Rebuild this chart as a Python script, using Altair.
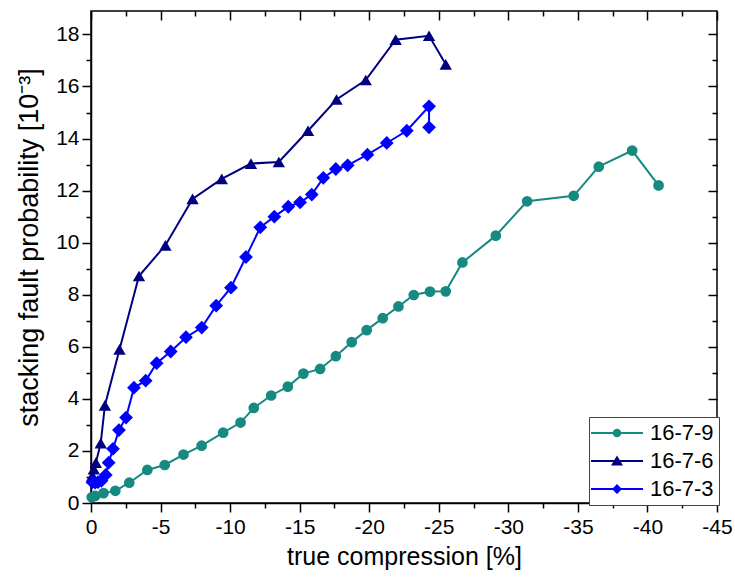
import altair as alt
import pandas as pd

series_names = ["16-7-9", "16-7-6", "16-7-3"]
series_colors = ["#168a80", "#000080", "#0000ff"]
series_shapes = ["circle", "triangle-up", "diamond"]
series_sizes = [115, 190, 120]

x_1679 = [-0.05, -0.3, -0.9, -1.75, -2.75, -4.05, -5.3, -6.65, -7.95, -9.5, -10.75,
          -11.7, -12.95, -14.15, -15.27, -16.47, -17.6, -18.74, -19.82, -20.97, -22.1,
          -23.2, -24.37, -25.5, -26.7, -29.1, -31.35, -34.7, -36.5, -38.9, -40.8]
y_1679 = [0.22, 0.27, 0.38, 0.47, 0.78, 1.27, 1.46, 1.86, 2.2, 2.7, 3.09,
          3.65, 4.13, 4.47, 4.97, 5.15, 5.64, 6.18, 6.64, 7.1, 7.55,
          7.99, 8.12, 8.13, 9.24, 10.27, 11.59, 11.8, 12.92, 13.54, 12.2]

x_1676 = [-0.1, -0.2, -0.35, -0.7, -1.0, -2.05, -3.45, -5.35, -7.3, -9.4, -11.5,
          -13.5, -15.6, -17.65, -19.75, -21.9, -24.3, -25.5]
y_1676 = [1.05, 1.3, 1.55, 2.3, 3.75, 5.9, 8.72, 9.9, 11.68, 12.45, 13.04,
          13.1, 14.3, 15.5, 16.25, 17.8, 17.95, 16.85]

x_1673 = [-0.1, -0.3, -0.5, -0.75, -1.06, -1.27, -1.58, -2.01, -2.52, -3.09, -3.93,
          -4.72, -5.73, -6.83, -7.96, -9.0, -10.06, -11.14, -12.17, -13.18, -14.18,
          -15.03, -15.87, -16.7, -17.6, -18.45, -19.87, -21.26, -22.7, -24.3, -24.3]
y_1673 = [0.8, 0.78, 0.8, 0.85, 1.08, 1.55, 2.08, 2.8, 3.28, 4.43, 4.7,
          5.37, 5.82, 6.37, 6.74, 7.58, 8.27, 9.45, 10.59, 11.0, 11.38,
          11.55, 11.85, 12.49, 12.83, 12.97, 13.38, 13.83, 14.3, 15.24, 14.43]

x_tick_values = [0, -2.5, -5, -7.5, -10, -12.5, -15, -17.5, -20, -22.5, -25,
                 -27.5, -30, -32.5, -35, -37.5, -40, -42.5, -45]
y_tick_values = [0, 1, 2, 3, 4, 5, 6, 7, 8, 9, 10, 11, 12, 13, 14, 15, 16, 17, 18]

rows = []
for name, xs, ys in [(series_names[0], x_1679, y_1679),
                     (series_names[1], x_1676, y_1676),
                     (series_names[2], x_1673, y_1673)]:
    for i, (xv, yv) in enumerate(zip(xs, ys)):
        rows.append({"sample": name, "x": xv, "y": yv, "i": i})
df = pd.DataFrame(rows)

W, H = 626, 492
FONT = "Liberation Sans"

# legend symbols: line with marker (path units scaled by sqrt(size)/2 = 5 px)
line_path = "M-5.2,-0.2H5.2V0.2H-5.2Z"
legend_paths = [
    line_path + " M0.85,0A0.85,0.85 0 1,1 -0.85,0A0.85,0.85 0 1,1 0.85,0Z",
    line_path + " M0,-1.1L1.2,0.9L-1.2,0.9Z",
    line_path + " M0,-1L1,0L0,1L-1,0Z",
]

xscale = alt.Scale(domain=[0, -45], nice=False, zero=False)
yscale = alt.Scale(domain=[0, 18.9], nice=False, zero=False)
cscale = alt.Scale(domain=series_names, range=series_colors)

tick_x = {"condition": {"test": "datum.value % 5 === 0", "value": 9}, "value": 5}
tick_y = {"condition": {"test": "datum.value % 2 === 0", "value": 9}, "value": 5}
# negative sizes turn the mirrored ticks inward
tick_x_in = {"expr": "datum.value % 5 === 0 ? -9 : -5"}
tick_y_in = {"expr": "datum.value % 2 === 0 ? -9 : -5"}

x_main_axis = alt.Axis(
    values=x_tick_values,
    labelExpr="datum.value % 5 === 0 ? (datum.value < 0 ? '-' + format(-datum.value, 'd') : '0') : ''",
    labelOverlap=False, labelFlush=False,
    tickSize=tick_x, tickWidth=1.5, tickColor="black",
    domainColor="black", domainWidth=1.5,
    labelFont=FONT, labelFontSize=21, labelColor="black", labelPadding=4,
    title="true compression [%]", titleFont=FONT, titleFontSize=25,
    titleFontWeight="normal", titleColor="black", titlePadding=7,
    grid=False,
)
y_main_axis = alt.Axis(
    values=y_tick_values,
    labelExpr="datum.value % 2 === 0 ? format(datum.value, 'd') : ''",
    labelOverlap=False, labelFlush=False,
    tickSize=tick_y, tickWidth=1.5, tickColor="black",
    domainColor="black", domainWidth=1.5,
    labelFont=FONT, labelFontSize=21, labelColor="black", labelPadding=3,
    title="stacking fault probability [10\u207b\u00b3]", titleFont=FONT, titleFontSize=27,
    titleFontWeight="normal", titleColor="black", titlePadding=12, titleY=236,
    grid=False,
)
x_mirror_axis = alt.Axis(
    orient="top", values=x_tick_values, labels=False, title="",
    domain=False, tickSize=tick_x_in, tickWidth=1.5, tickColor="black", grid=False,
)
y_mirror_axis = alt.Axis(
    orient="right", values=y_tick_values, labels=False, title="",
    domain=False, tickSize=tick_y_in, tickWidth=1.5, tickColor="black", grid=False,
)

base = alt.Chart(df)

lines = base.mark_line(strokeWidth=2).encode(
    x=alt.X("x:Q", scale=xscale, axis=x_main_axis),
    y=alt.Y("y:Q", scale=yscale, axis=y_main_axis),
    color=alt.Color("sample:N", scale=cscale, legend=None),
    detail="sample:N",
    order="i:Q",
)

points = base.mark_point(filled=True, opacity=1).encode(
    x=alt.X("x:Q", scale=xscale, axis=None),
    y=alt.Y("y:Q", scale=yscale, axis=None),
    color=alt.Color("sample:N", scale=cscale, legend=None),
    shape=alt.Shape("sample:N", scale=alt.Scale(domain=series_names, range=series_shapes), legend=None),
    size=alt.Size("sample:N", scale=alt.Scale(domain=series_names, range=series_sizes), legend=None),
)

legend_props = dict(
    title=None, orient="none", legendX=498, legendY=406,
    strokeColor="#444444", fillColor="white", padding=5,
    labelFont=FONT, labelFontSize=22, labelColor="black",
    symbolSize=100, symbolStrokeWidth=0, symbolOpacity=1,
    symbolOffset=12, labelOffset=22, rowPadding=6, cornerRadius=0,
)

mirror = base.mark_point(filled=True, opacity=0).encode(
    x=alt.X("x:Q", scale=xscale, axis=x_mirror_axis),
    y=alt.Y("y:Q", scale=yscale, axis=y_mirror_axis),
    color=alt.Color("sample:N", scale=cscale, legend=alt.Legend(**legend_props)),
    shape=alt.Shape("sample:N", scale=alt.Scale(domain=series_names, range=legend_paths),
                    legend=alt.Legend(**legend_props)),
)

chart = alt.layer(lines, points, mirror).resolve_scale(
    color="independent", shape="independent"
).resolve_axis(
    x="independent", y="independent"
).properties(
    width=W, height=H,
    autosize=alt.AutoSizeParams(type="none"),
    padding={"left": 91, "top": 11, "right": 18, "bottom": 76},
    background="white",
).configure_view(
    stroke="black", strokeWidth=1.5
)

chart.save("out.html", embed_options={"renderer": "svg", "actions": False})
